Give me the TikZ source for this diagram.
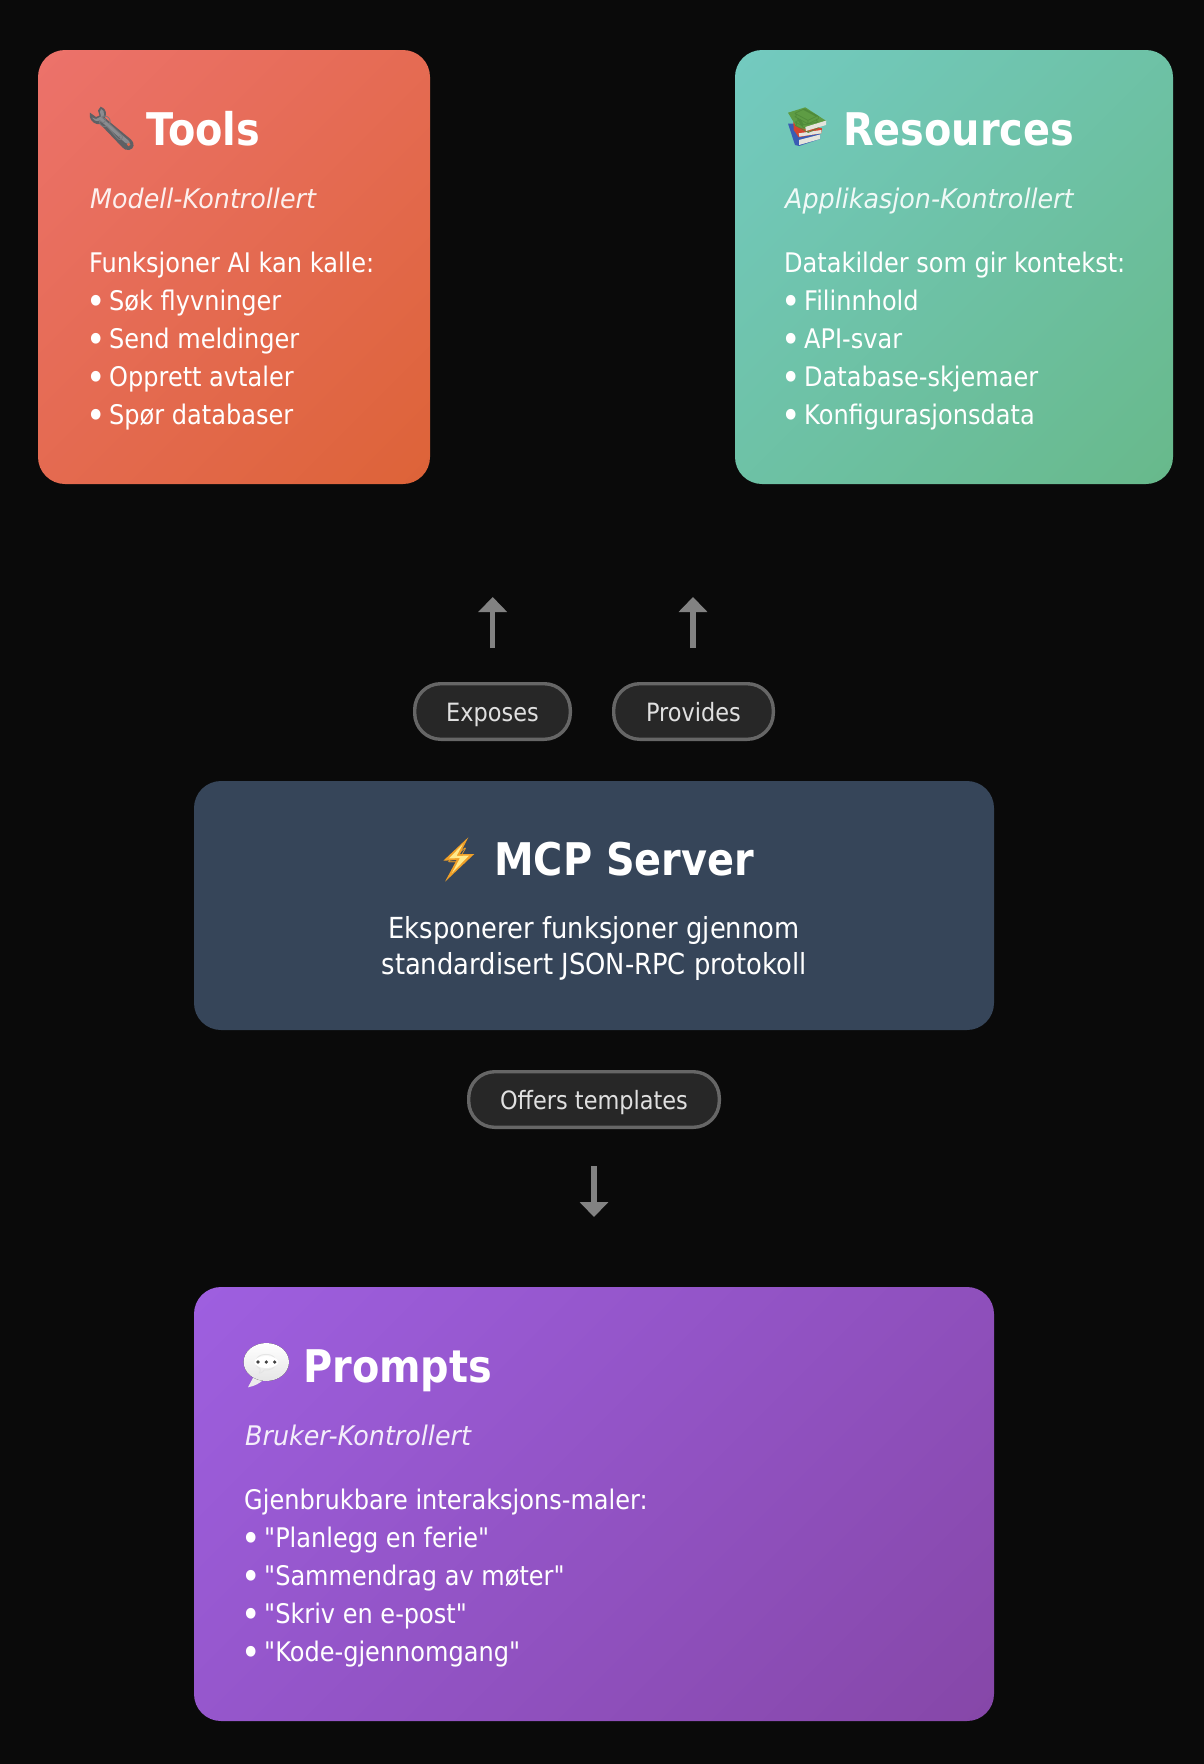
\documentclass[tikz,border=0pt]{standalone}
\usepackage{fontspec}
\setmainfont{DejaVu Sans}[Ligatures=TeXOff,FakeStretch=0.89,BoldFeatures={FakeStretch=0.885},ItalicFeatures={FakeStretch=0.94}]
\newfontfamily\emojifont{Noto Emoji}
\usetikzlibrary{arrows.meta}
\definecolor{bgc}{HTML}{0A0A0A}
\definecolor{serverc}{HTML}{364559}
\definecolor{pillf}{HTML}{272727}
\definecolor{pilld}{HTML}{666666}
\definecolor{pillt}{HTML}{E0E0E0}
\definecolor{arrowc}{HTML}{828282}
\definecolor{toolsa}{HTML}{EC726B}
\definecolor{toolsb}{HTML}{DD6338}
\definecolor{resa}{HTML}{73CAC0}
\definecolor{resb}{HTML}{68B98B}
\definecolor{proa}{HTML}{9E5FE0}
\definecolor{prob}{HTML}{8647A8}
\definecolor{wrenchd}{HTML}{5F6064}
\definecolor{wrenchl}{HTML}{8B8C90}
\definecolor{bookg}{HTML}{5E9C44}
\definecolor{bookgd}{HTML}{4F8A3A}
\definecolor{bookr}{HTML}{D4452F}
\definecolor{bookb}{HTML}{3A5CB4}
\definecolor{bookp}{HTML}{E4E4DC}
\definecolor{boltd}{HTML}{F0A028}
\definecolor{boltl}{HTML}{FFE98A}
\definecolor{bubbleg}{HTML}{E4E4E4}
\tikzset{
  x=1pt,y=-1pt,
  cardbox/.style={inner sep=0pt,outer sep=0pt,rounded corners=27pt},
  titletext/.style={anchor=base west,inner sep=0pt,text=white,font=\fontsize{45}{50}\selectfont\bfseries},
  subtext/.style={anchor=base west,inner sep=0pt,text=white,text opacity=0.9,font=\fontsize{27}{38}\selectfont\itshape},
  bodytext/.style={anchor=north west,inner sep=0pt,align=left,text=white,font=\fontsize{27}{38}\selectfont},
  servertext/.style={inner sep=0pt,anchor=base,text=white,font=\fontsize{29}{35.5}\selectfont},
  pill/.style={draw=pilld,fill=pillf,line width=3.4pt,rounded corners=26pt,inner sep=0pt,minimum height=55.6pt,
     text=pillt,text height=22.5pt,text depth=3pt,font=\fontsize{25.2}{30}\selectfont},
  flow/.style={draw=arrowc,line width=5.2pt,-{Triangle[width=28pt,length=15pt]}},
  emoji/.style={inner sep=0pt,font=\fontsize{24}{30}\selectfont\emojifont},
}
\newcommand\bul{\makebox[20pt][l]{\hspace*{-3pt}\smash{\fontsize{37}{38}\selectfont\raisebox{-3.4pt}{•}}}}
\newcommand\card[7]{%
  \pgfmathsetmacro\cardW{#4-#2}\pgfmathsetmacro\cardH{#5-#3}%
  \pgfmathsetmacro\cardS{(\cardW+\cardH)*0.35355}%
  \node[cardbox,minimum width=\cardW pt,minimum height=\cardH pt,
    path picture={\shade[top color=#6,bottom color=#7,shading angle=45]
      ([shift={(-\cardS,-\cardS)}]path picture bounding box.center) rectangle
      ([shift={(\cardS,\cardS)}]path picture bounding box.center);}]
    (#1) at ({(#2+#4)/2},{(#3+#5)/2}) {};}
\begin{document}
\begin{tikzpicture}
\useasboundingbox[fill=bgc] (0,0) rectangle (1204,1764);
% cards
\card{tools}{38}{50}{430}{484}{toolsa}{toolsb}
\card{resources}{735}{50}{1173}{484}{resa}{resb}
\node[cardbox,fill=serverc,minimum width=800pt,minimum height=249pt] (server) at (594,905.5) {};
\card{prompts}{194}{1287}{994}{1721}{proa}{prob}
% tools
\fill[wrenchd] (100.7,106.7) .. controls (104,108) and (106.5,111) .. (106,114.5) -- (105,118) -- (131,139.5)
  .. controls (135,143) and (134.5,149) .. (129,150) .. controls (126,150.5) and (124,149) .. (122.5,147.5) -- (100,124)
  .. controls (96,125) and (91,122) .. (89.8,117) -- (90,112.7) -- (96,117) -- (99.5,115.5) -- (98,110.5) -- cycle;
\fill[wrenchl] (101,108.8) .. controls (103,110) and (104.8,112) .. (104,115) -- (102.5,118.2) -- (129,141)
  .. controls (131,143) and (130,144.5) .. (128,144) -- (125,142.5) -- (100,120.5) .. controls (96,122) and (93,120) .. (92,117.5)
  -- (96,119) -- (101,116.5) -- (100,112) -- cycle;
\node[emoji,text=wrenchl!60!wrenchd] (toolsicon) at (111,128) {🔧};
\fill[toolsb!60!toolsa] (128.6,144.5) circle (1.7);
\node[titletext] (toolstitle) at (146,145) {Tools};
\node[subtext] (toolssub) at (90,208) {Modell-Kontrollert};
\node[bodytext] (toolsbody) at (89,252) {Funksjoner AI kan kalle:\\\bul Søk flyvninger\\\bul Send meldinger\\\bul Opprett avtaler\\\bul Spør databaser};
% resources
\fill[bookb] (788,123.5) -- (798,124) -- (820,134) -- (820,139) -- (799,146) -- (795,145) -- cycle;
\fill[bookp] (799,140) -- (820,134.5) -- (820,139) -- (799,145) -- cycle;
\fill[bookr] (793.3,121.7) -- (822,128.3) -- (821.3,133.3) -- (798.7,137.3) -- (793.7,130) -- cycle;
\fill[bookp] (798.7,133.3) -- (821.3,130) -- (821.3,133.3) -- (799.3,136.7) -- cycle;
\fill[bookg] (788,112.7) -- (805.3,107.3) -- (826.3,121) -- (805.3,129.3) -- (796,126) -- cycle;
\node[emoji,text=bookgd] (resicon) at (807,121) {📚};
\fill[bookp] (805.3,127) -- (826.3,120.5) -- (826,125) -- (806,131) -- cycle;
\node[titletext] (restitle) at (843,145) {Resources};
\node[subtext] (ressub) at (785,208) {Applikasjon-Kontrollert};
\node[bodytext] (resbody) at (784,252) {Datakilder som gir kontekst:\\\bul Filinnhold\\\bul API-svar\\\bul Database-skjemaer\\\bul Konfigurasjonsdata};
% server
\fill[boltd] (468.3,837.3) -- (443.3,860.7) -- (456.7,860) -- (445,881.7) -- (474.3,854) -- (460,854) -- cycle;
\node[emoji,text=boltd] (servericon) at (458,860) {⚡};
\fill[boltl] (463,844) -- (449,858.5) -- (460,858) -- (452,873) -- (469,855.5) -- (456.5,856) -- cycle;
\node[titletext] (servertitle) at (494,875) {MCP Server};
\node[servertext] (serverl1) at (594,938) {Eksponerer funksjoner gjennom};
\node[servertext] (serverl2) at (594,974) {standardisert JSON-RPC protokoll};
% pills
\node[pill,minimum width=155.6pt] (exposes) at (492.5,711.5) {Exposes};
\node[pill,minimum width=159.6pt] (provides) at (693.5,711.5) {Provides};
\node[pill,minimum width=250.6pt] (offers) at (594,1099.5) {Offers templates};
% arrows
\coordinate (a1s) at (492.7,648); \coordinate (a1e) at (492.7,597);
\coordinate (a2s) at (693,648); \coordinate (a2e) at (693,597);
\coordinate (a3s) at (594,1166); \coordinate (a3e) at (594,1217);
\draw[flow] (a1s) -- (a1e);
\draw[flow] (a2s) -- (a2e);
\draw[flow] (a3s) -- (a3e);
% prompts
\fill[gray!15] (254,1376) -- (248,1387.3) .. controls (255,1386) and (260,1383) .. (263,1380) -- cycle;
\fill[top color=white,bottom color=gray!20] (266.3,1362) ellipse [x radius=22.7,y radius=19];
\node[emoji,text=bubbleg] (prompticon) at (266,1364) {💬};
\fill[white] (266.3,1362) ellipse [x radius=12,y radius=6];
\fill[black!75] (258,1362) circle (1.8) (266.3,1362) circle (1.8) (274.7,1362) circle (1.8);
\node[titletext] (promptstitle) at (303,1382) {Prompts};
\node[subtext] (promptssub) at (245,1445) {Bruker-Kontrollert};
\node[bodytext] (promptsbody) at (244,1489) {Gjenbrukbare interaksjons-maler:\\\bul "Planlegg en ferie"\\\bul "Sammendrag av møter"\\\bul "Skriv en e-post"\\\bul "Kode-gjennomgang"};
\end{tikzpicture}
\end{document}
